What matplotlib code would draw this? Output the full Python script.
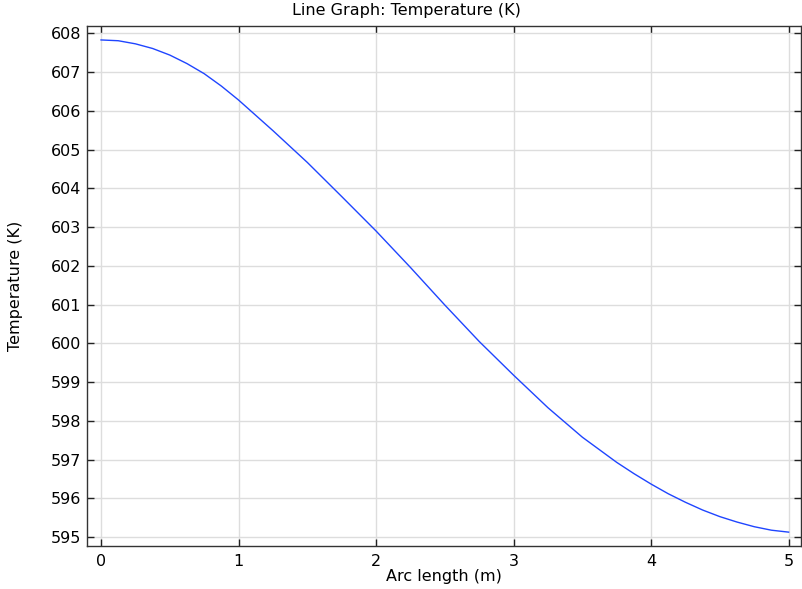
import matplotlib
matplotlib.use("Agg")
import matplotlib.pyplot as plt

plt.rcParams["font.family"] = "DejaVu Sans"

# values
arc_length = [0.0, 0.125, 0.25, 0.375, 0.5, 0.625, 0.75, 0.875, 1.0, 1.25,
              1.5, 1.75, 2.0, 2.25, 2.5, 2.75, 3.0, 3.25, 3.5, 3.75,
              3.875, 4.0, 4.125, 4.25, 4.375, 4.5, 4.625, 4.75, 4.875, 5.0]
temperature = [607.83, 607.81, 607.73, 607.61, 607.44, 607.22, 606.96, 606.64, 606.28, 605.49,
               604.67, 603.79, 602.90, 601.96, 600.99, 600.05, 599.18, 598.34, 597.58, 596.93,
               596.64, 596.37, 596.12, 595.90, 595.70, 595.53, 595.39, 595.27, 595.18, 595.13]
x_ticks = [0, 1, 2, 3, 4, 5]
y_ticks = list(range(595, 609))

fig = plt.figure(figsize=(8.03, 5.89), dpi=100)
ax = fig.add_axes([87 / 803, 1 - 545.7 / 589, (801 - 87) / 803, (545.7 - 26) / 589])

ax.plot(arc_length, temperature, color="#1f45ff", linewidth=1.0)

ax.set_xlim(-0.102, 5.09)
ax.set_ylim(594.78, 608.19)
ax.set_xticks(x_ticks)
ax.set_yticks(y_ticks)
ax.grid(True, color="#dddddd", linewidth=1.0)
ax.set_axisbelow(True)

ax.tick_params(direction="in", top=True, right=True, length=5, width=1,
               labelsize=11.5, color="#222222")
ax.tick_params(axis="x", pad=6)
ax.tick_params(axis="y", pad=4)
for sp in ax.spines.values():
    sp.set_color("#333333")
    sp.set_linewidth(1.0)

ax.set_xlabel("Arc length (m)", fontsize=11.5, labelpad=0)
ax.set_ylabel("Temperature (K)", fontsize=11.5, labelpad=20)
fig.text(406 / 803, 1 - 11 / 589, "Line Graph: Temperature (K)",
         ha="center", va="center", fontsize=11.5)

fig.savefig("out.png", dpi=100)
